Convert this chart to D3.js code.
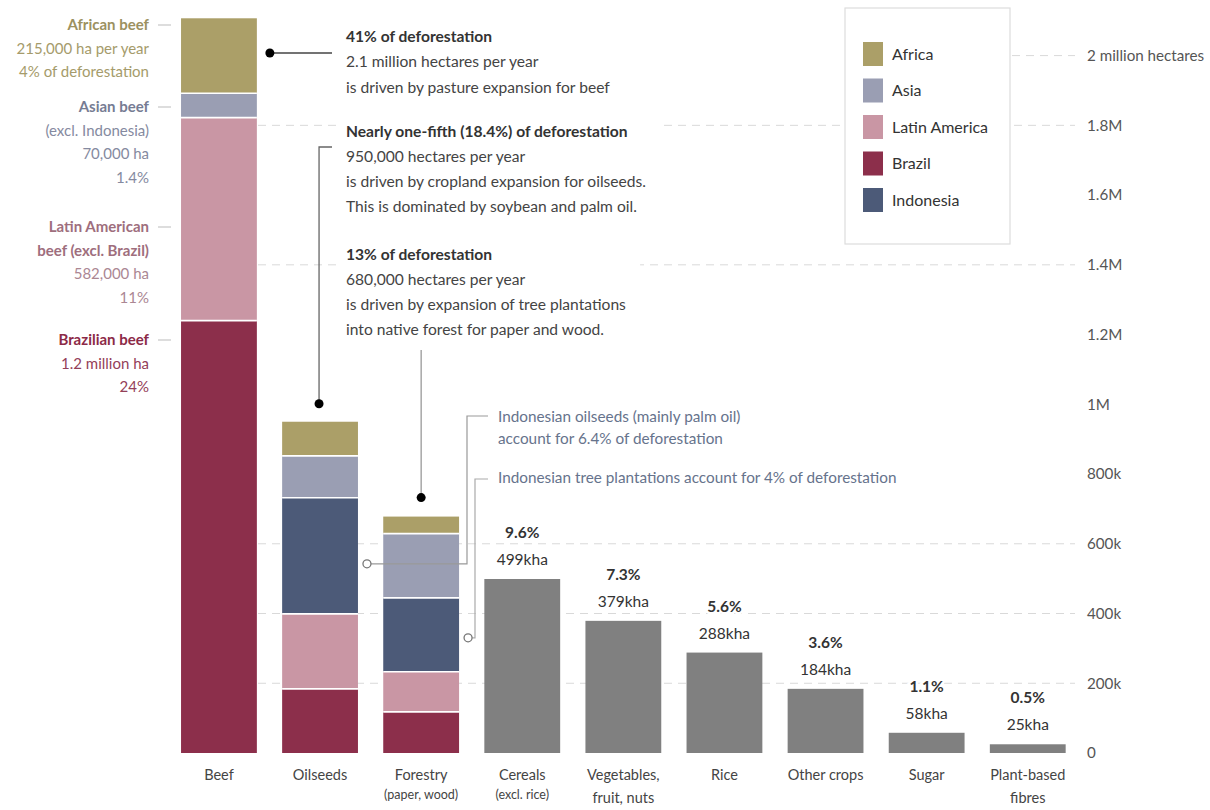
<!DOCTYPE html>
<html><head><meta charset="utf-8">
<script src="https://cdn.jsdelivr.net/npm/d3@7"></script>
<style>
body{margin:0;background:#fff;}
text{font-family:Lato,"Noto Sans",sans-serif;}
</style></head>
<body><svg id="chart" width="1210" height="810"></svg>
<script>
// ---------------- DATA ----------------
const categories = ["Beef","Oilseeds","Forestry","Cereals","Vegetables","Rice","Other crops","Sugar","Plant-based fibres"];
const catLine1 = ["Beef","Oilseeds","Forestry","Cereals","Vegetables,","Rice","Other crops","Sugar","Plant-based"];
const catLine2 = ["","","(paper, wood)","(excl. rice)","fruit, nuts","","","","fibres"];
const catLine2Small = [false,false,true,true,false,false,false,false,false];

const stackKeys = ["Brazil","Latin America","Indonesia","Asia","Africa"]; // bottom -> top
const beefValues     = [1240000, 582000, 0, 70000, 215000];
const oilseedsValues = [184000, 215000, 333000, 120000, 98000];
const forestryValues = [118000, 115000, 212000, 184000, 49000];

const cropCats   = ["Cereals","Vegetables","Rice","Other crops","Sugar","Plant-based fibres"];
const cropValues = [499000, 379000, 288000, 184000, 58000, 25000];
const cropPct    = ["9.6%","7.3%","5.6%","3.6%","1.1%","0.5%"];
const cropKha    = ["499kha","379kha","288kha","184kha","58kha","25kha"];

const legendKeys = ["Africa","Asia","Latin America","Brazil","Indonesia"];
const regionColors = ["#ab9f68","#9a9eb3","#c996a4","#8c2f4b","#4c5a78"]; // matches legendKeys

const yTicks = [0,200000,400000,600000,800000,1000000,1200000,1400000,1600000,1800000,2000000];
const yTickLabels = ["0","200k","400k","600k","800k","1M","1.2M","1.4M","1.6M","1.8M","2 million hectares"];
const gridTicks = [200000,400000,600000,1400000,1800000,2000000];

// ---------------- SETUP ----------------
const svg = d3.select("#chart");
const x = d3.scaleBand().domain(categories).range([168.4,1078.3]).paddingInner(0.25).paddingOuter(0.125);
const y = d3.scaleLinear().domain([0,2000000]).range([753,55.6]);
const color = d3.scaleOrdinal().domain(legendKeys).range(regionColors);

// grid
const gridG = svg.append("g");
gridG.selectAll("line").data(gridTicks).join("line")
  .attr("x1",d=>d>=2000000?1012:258).attr("x2",1075)
  .attr("y1",d=>y(d)).attr("y2",d=>y(d))
  .attr("stroke","#d9d9d9").attr("stroke-width",1).attr("stroke-dasharray","8,6");

// right axis
const axis = d3.axisRight(y).tickValues(yTicks).tickSize(0).tickPadding(0)
  .tickFormat((d,i)=>yTickLabels[i]);
const axG = svg.append("g").attr("transform","translate(1087,0)").call(axis);
axG.select(".domain").remove();
axG.selectAll("text").attr("font-size",15.2).attr("fill","#555").attr("font-family","Lato");

// stacked bars
const stackRows = [
  Object.assign({cat:"Beef"}, Object.fromEntries(stackKeys.map((k,i)=>[k,beefValues[i]]))),
  Object.assign({cat:"Oilseeds"}, Object.fromEntries(stackKeys.map((k,i)=>[k,oilseedsValues[i]]))),
  Object.assign({cat:"Forestry"}, Object.fromEntries(stackKeys.map((k,i)=>[k,forestryValues[i]])))
];
const series = d3.stack().keys(stackKeys)(stackRows);
const barG = svg.append("g");
series.forEach(s=>{
  barG.selectAll(null).data(s.filter(d=>d[1]-d[0]>0)).join("rect")
    .attr("x",d=>x(d.data.cat)).attr("width",x.bandwidth())
    .attr("y",d=>y(d[1])).attr("height",d=>y(d[0])-y(d[1]))
    .attr("fill",color(s.key));
});
// white separators between segments
series.slice(0,-1).forEach(s=>{
  barG.selectAll(null).data(s.filter(d=>d[1]-d[0]>0)).join("line")
    .attr("x1",d=>x(d.data.cat)).attr("x2",d=>x(d.data.cat)+x.bandwidth())
    .attr("y1",d=>y(d[1])).attr("y2",d=>y(d[1]))
    .attr("stroke","#fff").attr("stroke-width",1.6);
});

// grey bars
barG.selectAll(".crop").data(cropCats).join("rect").attr("class","crop")
  .attr("x",d=>x(d)).attr("width",x.bandwidth())
  .attr("y",(d,i)=>y(cropValues[i])).attr("height",(d,i)=>y(0)-y(cropValues[i]))
  .attr("fill","#808080");
const valG = svg.append("g");
cropCats.forEach((c,i)=>{
  const cx = x(c)+x.bandwidth()/2, top = y(cropValues[i]);
  valG.append("text").attr("x",cx).attr("y",top-41).attr("text-anchor","middle")
    .attr("font-size",15.5).attr("font-weight",700).attr("fill","#333")
    .attr("stroke","#fff").attr("stroke-width",5).attr("paint-order","stroke").text(cropPct[i]);
  valG.append("text").attr("x",cx).attr("y",top-14).attr("text-anchor","middle")
    .attr("font-size",15.5).attr("fill","#333")
    .attr("stroke","#fff").attr("stroke-width",5).attr("paint-order","stroke").text(cropKha[i]);
});

// category labels
const catG = svg.append("g");
categories.forEach((c,i)=>{
  const cx = x(c)+x.bandwidth()/2;
  catG.append("text").attr("x",cx).attr("y",780).attr("text-anchor","middle")
    .attr("font-size",14.5).attr("fill","#444").text(catLine1[i]);
  if(catLine2[i]) catG.append("text").attr("x",cx).attr("y",catLine2Small[i]?799:803).attr("text-anchor","middle")
    .attr("font-size",catLine2Small[i]?12.5:14.5).attr("fill","#444").text(catLine2[i]);
});

// left beef labels
const leftLabels = [
  {lines:["African beef","215,000 ha per year","4% of deforestation"], y0:25, c1:"#9c9160", c2:"#a59b6b"},
  {lines:["Asian beef","(excl. Indonesia)","70,000 ha","1.4%"], y0:107, c1:"#767c93", c2:"#858aa0"},
  {lines:["Latin American","beef (excl. Brazil)","582,000 ha","11%"], y0:227, c1:"#9e6e7d", c2:"#ab8793"},
  {lines:["Brazilian beef","1.2 million ha","24%"], y0:340, c1:"#8c2a47", c2:"#944059"}
];
const leftG = svg.append("g");
leftLabels.forEach(L=>{
  L.lines.forEach((t,j)=>{
    const bold = (j===0) || (L.lines[0]==="Latin American" && j===1);
    leftG.append("text").attr("x",149).attr("y",L.y0+j*23.5+5).attr("text-anchor","end")
      .attr("font-size",15).attr("font-weight",bold?700:400)
      .attr("fill",bold?L.c1:L.c2).text(t);
  });
  leftG.append("line").attr("x1",158).attr("x2",171).attr("y1",L.y0).attr("y2",L.y0)
    .attr("stroke","#bbb").attr("stroke-width",1);
});

// annotations
function block(lines, x0, y0, dy, size, col, boldFirst){
  const g = svg.append("g");
  const tg = g.append("g");
  lines.forEach((t,j)=>{
    tg.append("text").attr("x",x0).attr("y",y0+j*dy).attr("font-size",size)
      .attr("font-weight",(boldFirst&&j===0)?700:400)
      .attr("fill",(boldFirst&&j===0)?"#333":col).text(t);
  });
  const b = tg.node().getBBox();
  g.insert("rect","g").attr("x",b.x-8).attr("y",b.y-3).attr("width",b.width+22).attr("height",b.height+6).attr("fill","#fff");
  return g;
}
block(["41% of deforestation","2.1 million hectares per year","is driven by pasture expansion for beef"],346,41.5,25.5,15.6,"#444",true);
block(["Nearly one-fifth (18.4%) of deforestation","950,000 hectares per year","is driven by cropland expansion for oilseeds.","This is dominated by soybean and palm oil."],346,136.5,25.3,15.6,"#444",true);
block(["13% of deforestation","680,000 hectares per year","is driven by expansion of tree plantations","into native forest for paper and wood."],346,259.5,25,15.6,"#444",true);
block(["Indonesian oilseeds (mainly palm oil)","account for 6.4% of deforestation"],498,421.5,22.5,15.3,"#66738c",false);
block(["Indonesian tree plantations account for 4% of deforestation"],498,483,22,15.3,"#66738c",false);

// connectors
const conG = svg.append("g");
const oilTop = y(d3.sum(oilseedsValues)), forTop = y(d3.sum(forestryValues));
const beefRight = x("Beef")+x.bandwidth();
const oilMid = x("Oilseeds")+x.bandwidth()/2, forMid = x("Forestry")+x.bandwidth()/2;
conG.append("line").attr("x1",beefRight+13).attr("x2",332).attr("y1",53).attr("y2",53).attr("stroke","#444").attr("stroke-width",1.5);
conG.append("circle").attr("cx",beefRight+13).attr("cy",53).attr("r",4.5).attr("fill","#000");
conG.append("path").attr("d",`M332,147H${oilMid-1}V${oilTop-18}`).attr("fill","none").attr("stroke","#666").attr("stroke-width",1.3);
conG.append("circle").attr("cx",oilMid-1).attr("cy",oilTop-18).attr("r",4.5).attr("fill","#000");
conG.append("path").attr("d",`M${forMid},350V${forTop-19}`).attr("fill","none").attr("stroke","#999").attr("stroke-width",1.3);
conG.append("circle").attr("cx",forMid).attr("cy",forTop-19).attr("r",4.5).attr("fill","#000");
// Indonesian connectors
const oilIndoMid = y(oilseedsValues[0]+oilseedsValues[1]+oilseedsValues[2]/2);
const forIndoMid = y(forestryValues[0]+forestryValues[1]+forestryValues[2]/2);
const oilRight = x("Oilseeds")+x.bandwidth(), forRight = x("Forestry")+x.bandwidth();
conG.append("path").attr("d",`M${oilRight+13},${oilIndoMid+8}H467V416H488`).attr("fill","none").attr("stroke","#999").attr("stroke-width",1.2);
conG.append("circle").attr("cx",oilRight+9).attr("cy",oilIndoMid+8).attr("r",4).attr("fill","#fff").attr("stroke","#777").attr("stroke-width",1.3);
conG.append("path").attr("d",`M${forRight+13},${forIndoMid+3}H475V479H488`).attr("fill","none").attr("stroke","#aaa").attr("stroke-width",1.2);
conG.append("circle").attr("cx",forRight+9).attr("cy",forIndoMid+3).attr("r",4).attr("fill","#fff").attr("stroke","#777").attr("stroke-width",1.3);

// legend
const lg = svg.append("g");
lg.append("rect").attr("x",845).attr("y",8).attr("width",165).attr("height",236)
  .attr("fill","#fff").attr("stroke","#ddd").attr("stroke-width",1.2);
legendKeys.forEach((k,i)=>{
  const cy = 54+i*36.5;
  lg.append("rect").attr("x",863).attr("y",cy-12).attr("width",20).attr("height",24).attr("fill",color(k));
  lg.append("text").attr("x",892).attr("y",cy+5.5).attr("font-size",16).attr("fill","#333").text(k);
});
</script></body></html>
